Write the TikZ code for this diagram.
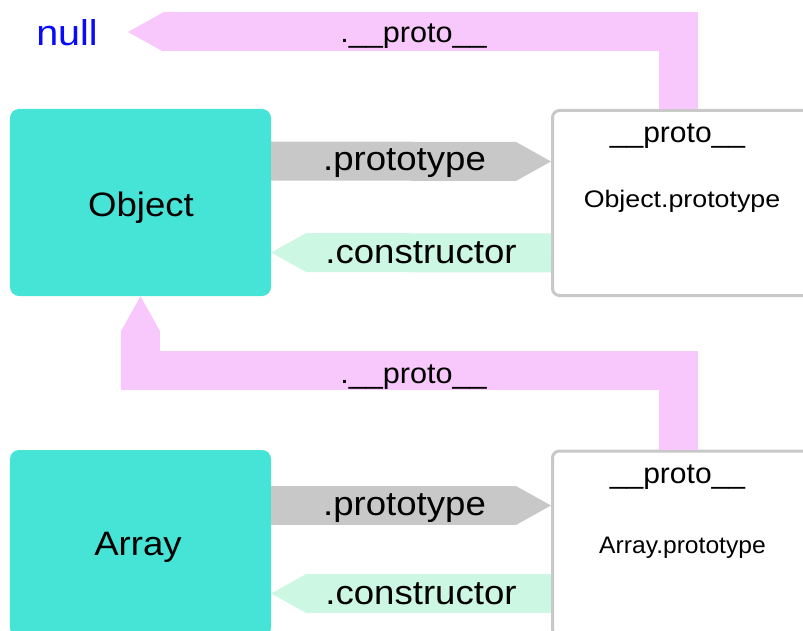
\documentclass[tikz,border=0pt]{standalone}
\usepackage{fontspec}
\setmainfont{Liberation Sans}
\usetikzlibrary{arrows.meta,calc}
\definecolor{turq}{RGB}{70,228,214}
\definecolor{pinkA}{RGB}{248,200,252}
\definecolor{grayA}{RGB}{200,200,200}
\definecolor{greenA}{RGB}{204,247,226}
\definecolor{boxgray}{RGB}{200,200,200}
\definecolor{nullblue}{RGB}{10,10,250}
\newcommand\widetxt[2]{\scalebox{#1}[1]{#2}}
\begin{document}
\begin{tikzpicture}[x=1bp,y=-1bp,
 cls/.style={fill=turq, rounded corners=9bp, minimum width=261bp, minimum height=187bp, inner sep=0pt},
 protobox/.style={draw=boxgray, line width=3bp, fill=white, rounded corners=7bp, minimum width=260bp, minimum height=185bp, inner sep=0pt},
 band/.style={line width=39bp, line join=miter, -{Triangle[length=35bp,width=39bp,line width=0pt]}},
 protolink/.style={band, draw=pinkA},
 prototypelink/.style={band, draw=grayA},
 ctorlink/.style={band, draw=greenA},
 txt/.style={anchor=base, inner sep=0pt},
 bigtxt/.style={txt, font=\fontsize{34}{40}\selectfont},
 midtxt/.style={txt, font=\fontsize{29}{34}\selectfont},
 smalltxt/.style={txt, font=\fontsize{24}{28}\selectfont}
]
\useasboundingbox (0,0) rectangle (803,631);
\clip (0,0) rectangle (803,631);

% boxes
\node[cls] (obj) at (140.5,202.5) {};
\node[cls] (arr) at (140.5,543.5) {};
\node[protobox] (objp) at (682.5,203) {};
\node[protobox] (arrp) at (682.5,543.5) {};

% box texts
\node[bigtxt] (objtxt) at (141,217) {\widetxt{1.08}{Object}};
\node[bigtxt] (arrtxt) at (138,555) {\widetxt{1.08}{Array}};
\node[smalltxt] (objptxt) at (682,208) {\widetxt{1.12}{Object.prototype}};
\node[smalltxt] (arrptxt) at (682.5,553) {\widetxt{1.03}{Array.prototype}};
\node[midtxt] (objpproto) at (677.5,143) {\widetxt{1.04}{\_\_proto\_\_}};
\node[midtxt] (arrpproto) at (677.5,483) {\widetxt{1.04}{\_\_proto\_\_}};
\node[txt, font=\fontsize{36}{40}\selectfont, text=nullblue] (null) at (67,46) {\widetxt{1.1}{null}};
\coordinate (nulltip) at (128,32);

% connectors
\draw[protolink] ([xshift=-4.5bp]objp.north) |- (nulltip);
\draw[protolink] ([xshift=-4.5bp]arrp.north) -- ++(0,-79) -| (obj.south);
\draw[prototypelink] ([yshift=41.5bp]obj.east) -- ([yshift=41.5bp]objp.west);
\draw[ctorlink] ([yshift=-50bp]objp.west) -- ([yshift=-50bp]obj.east);
\draw[prototypelink] ([yshift=38bp]arr.east) -- ([yshift=38bp]arrp.west);
\draw[ctorlink] ([yshift=-50bp]arrp.west) -- ([yshift=-50bp]arr.east);

% connector labels
\node[midtxt] (l1) at (413.5,43) {\widetxt{1.06}{.\_\_proto\_\_}};
\node[midtxt] (l2) at (413.5,383) {\widetxt{1.06}{.\_\_proto\_\_}};
\node[bigtxt] (l3) at (404.5,170.5) {\widetxt{1.08}{.prototype}};
\node[bigtxt] (l4) at (421,263.5) {\widetxt{1.08}{.constructor}};
\node[bigtxt] (l5) at (404.5,515.5) {\widetxt{1.08}{.prototype}};
\node[bigtxt] (l6) at (421,604.5) {\widetxt{1.08}{.constructor}};
\end{tikzpicture}
\end{document}
